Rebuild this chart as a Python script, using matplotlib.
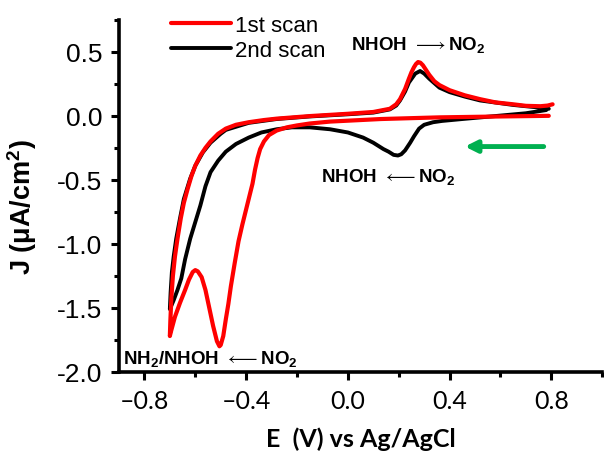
import matplotlib
matplotlib.use("Agg")
import matplotlib.pyplot as plt
from matplotlib.ticker import MultipleLocator

# potential (V vs Ag/AgCl) and current density (uA/cm2)
e_scan1 = [0.79, 0.60, 0.36, 0.13, -0.07, -0.15, -0.20, -0.24, -0.28, -0.31, -0.33, -0.345,
           -0.355, -0.365, -0.375, -0.39, -0.40, -0.415, -0.43, -0.445, -0.46, -0.47, -0.48,
           -0.49, -0.50, -0.505, -0.515, -0.53, -0.545, -0.56, -0.575, -0.59, -0.60, -0.61,
           -0.625, -0.64, -0.66, -0.68, -0.695, -0.70,
           -0.698, -0.694, -0.688, -0.68, -0.67, -0.657, -0.645, -0.63, -0.615, -0.60, -0.58,
           -0.56, -0.54, -0.51, -0.48, -0.44, -0.39, -0.33, -0.28, -0.15, 0.0, 0.10, 0.165,
           0.19, 0.205, 0.225, 0.24, 0.25, 0.26, 0.268, 0.276, 0.285, 0.295, 0.305, 0.32,
           0.34, 0.36, 0.40, 0.46, 0.52, 0.58, 0.65, 0.70, 0.757, 0.785, 0.805]
j_scan1 = [0.0, -0.005, -0.012, -0.025, -0.045, -0.06, -0.075, -0.09, -0.115, -0.15, -0.20, -0.26,
           -0.33, -0.42, -0.53, -0.65, -0.73, -0.85, -0.98, -1.15, -1.33, -1.47, -1.59,
           -1.72, -1.79, -1.80, -1.76, -1.64, -1.50, -1.36, -1.26, -1.215, -1.205, -1.22,
           -1.28, -1.36, -1.46, -1.57, -1.68, -1.72,
           -1.60, -1.42, -1.25, -1.10, -0.96, -0.80, -0.68, -0.57, -0.47, -0.39, -0.31,
           -0.25, -0.20, -0.14, -0.10, -0.07, -0.05, -0.033, -0.022, -0.002, 0.016, 0.03, 0.055,
           0.09, 0.13, 0.21, 0.29, 0.34, 0.38, 0.405, 0.42, 0.415, 0.395, 0.365, 0.32,
           0.27, 0.24, 0.20, 0.16, 0.13, 0.105, 0.09, 0.078, 0.075, 0.08, 0.09]

e_scan2 = [0.78, 0.70, 0.59, 0.45, 0.37, 0.335, 0.30, 0.28, 0.26, 0.245, 0.225, 0.21, 0.197,
           0.18, 0.16, 0.14, 0.10, 0.06, 0.0, -0.07, -0.15, -0.22, -0.28, -0.34, -0.39, -0.44,
           -0.48, -0.51, -0.54, -0.56, -0.58, -0.60, -0.62, -0.64, -0.655, -0.67, -0.685, -0.70,
           -0.697, -0.692, -0.685, -0.675, -0.66, -0.645, -0.62, -0.60, -0.57, -0.54, -0.50,
           -0.48, -0.39, -0.28, -0.15, 0.0, 0.10, 0.165, 0.19, 0.205, 0.225, 0.24, 0.265, 0.284,
           0.30, 0.32, 0.36, 0.40, 0.46, 0.52, 0.65, 0.75, 0.79]
j_scan2 = [0.045, 0.02, 0.0, -0.025, -0.04, -0.05, -0.07, -0.10, -0.16, -0.21, -0.27, -0.30, -0.31,
           -0.305, -0.28, -0.26, -0.21, -0.17, -0.13, -0.105, -0.09, -0.09, -0.105, -0.13, -0.17,
           -0.22, -0.28, -0.35, -0.44, -0.55, -0.70, -0.83, -0.96, -1.12, -1.27, -1.36, -1.44,
           -1.51,
           -1.38, -1.22, -1.10, -0.96, -0.80, -0.65, -0.49, -0.39, -0.285, -0.21, -0.14,
           -0.11, -0.055, -0.025, -0.005, 0.012, 0.025, 0.05, 0.08, 0.12, 0.19, 0.26, 0.33, 0.35,
           0.33, 0.29, 0.22, 0.185, 0.15, 0.12, 0.085, 0.065, 0.055]

x_ticks = [-0.8, -0.4, 0.0, 0.4, 0.8]
y_ticks = [-2.0, -1.5, -1.0, -0.5, 0.0, 0.5]

plt.rcParams['mathtext.fontset'] = 'custom'
plt.rcParams['mathtext.rm'] = 'Liberation Sans'
plt.rcParams['mathtext.bf'] = 'Liberation Sans:bold'

fig = plt.figure(figsize=(6.04, 4.52), dpi=100)
ax = fig.add_axes([0.197, 0.175, 0.800, 0.779])

l2, = ax.plot(e_scan2, j_scan2, color='black', lw=2.8, solid_joinstyle='round',
              solid_capstyle='round', label='2nd scan')
l1, = ax.plot(e_scan1, j_scan1, color='#ff0000', lw=3.0, solid_joinstyle='round',
              solid_capstyle='round', label='1st scan')

ax.set_xlim(-0.9, 1.0)
ax.set_ylim(-2.0, 0.75)
ax.set_xticks(x_ticks)
ax.set_yticks(y_ticks)
ax.set_xticklabels([f"{v:.1f}".replace('-', '\u2013') for v in x_ticks],
                   family='Lato', fontsize=18)
ax.set_yticklabels([f"{v:.1f}" for v in y_ticks], family='Liberation Sans', fontsize=19)
ax.xaxis.set_minor_locator(MultipleLocator(0.2))
ax.yaxis.set_minor_locator(MultipleLocator(0.25))
ax.tick_params(which='major', direction='out', length=6, width=2.2, pad=6)
ax.tick_params(which='minor', direction='out', length=3.5, width=2.2)
for s in ['top', 'right']:
    ax.spines[s].set_visible(False)
for s in ['left', 'bottom']:
    ax.spines[s].set_linewidth(2.6)

ax.set_xlabel('E  (V) vs Ag/AgCl', family='Lato', fontweight='bold', fontsize=18, labelpad=11)
ax.set_ylabel(r'J ($\mathbf{\mu}$A/cm$^\mathbf{2}$)', family='Liberation Sans',
              fontweight='bold', fontsize=19.5)
ax.yaxis.set_label_coords(-0.165, 0.47)

ax.legend(handles=[l1, l2], loc='upper left', bbox_to_anchor=(0.09, 1.04), frameon=False,
          prop={'family': 'Liberation Sans', 'size': 16}, handlelength=2.7,
          handletextpad=0.15, labelspacing=0.2, borderaxespad=0)

tkw = dict(family='Liberation Sans', fontweight='bold', fontsize=13.5, ha='center', va='center')
ax.text(0.276, 0.555, r'NHOH $\longrightarrow$NO$_\mathbf{2}$', **tkw)
ax.text(0.158, -0.477, r'NHOH $\longleftarrow$NO$_\mathbf{2}$', **tkw)
ax.text(-0.54, -1.90, r'NH$_\mathbf{2}$/NHOH $\longleftarrow$NO$_\mathbf{2}$', **tkw)

ax.annotate('', xy=(0.46, -0.24), xytext=(0.77, -0.24),
            arrowprops=dict(arrowstyle='-|>,head_length=0.7,head_width=0.35',
                            color='#00b050', lw=3.5, shrinkA=0, shrinkB=0))

fig.savefig('out.png', dpi=100)
